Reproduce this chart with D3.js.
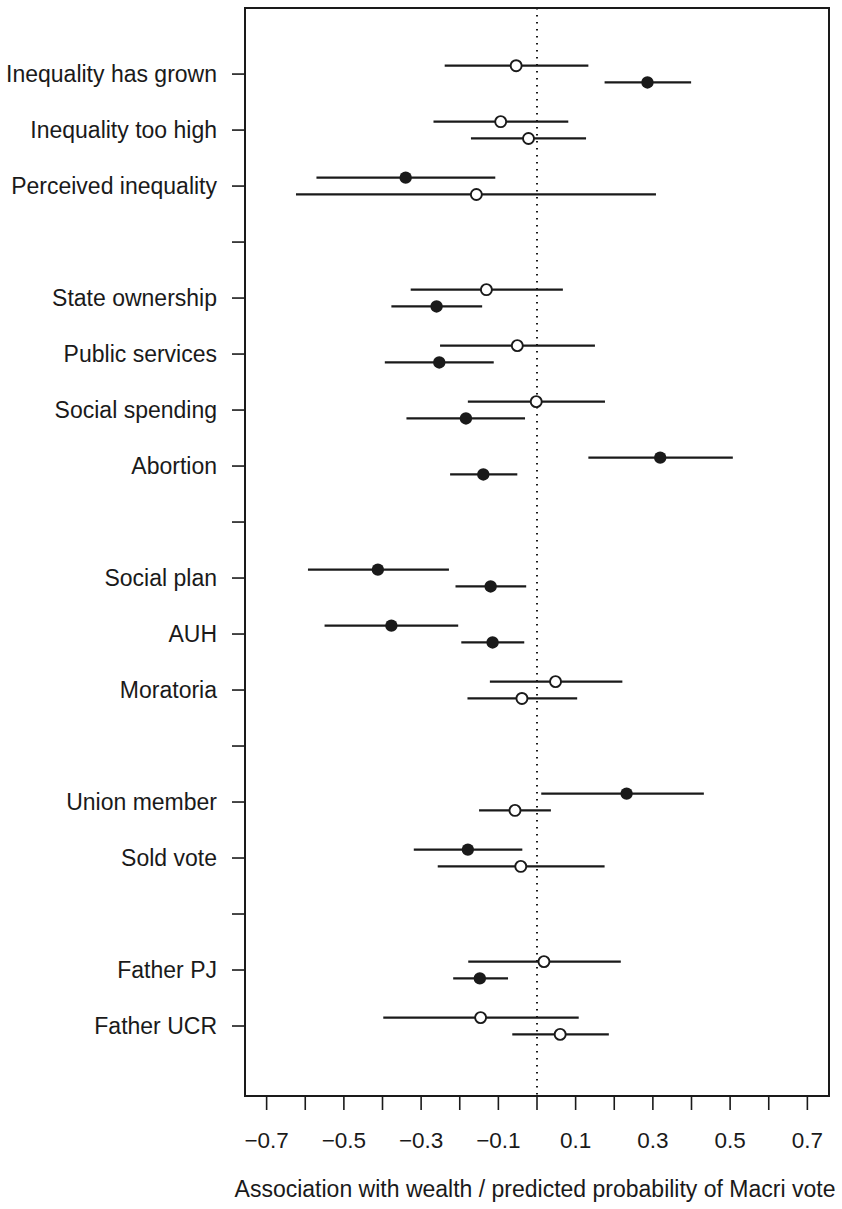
<!DOCTYPE html>
<html>
<head>
<meta charset="utf-8">
<script src="https://cdn.jsdelivr.net/npm/d3@7"></script>
<style>
  body { margin: 0; background: #fff; }
  text { font-family: "Liberation Sans", Arial, Helvetica, sans-serif; fill: #1a1a1a; }
</style>
</head>
<body>
<svg id="chart" width="842" height="1209"></svg>
<script>
// row labels, "" = spacer row between groups
const labels = [
  "Inequality has grown", "Inequality too high", "Perceived inequality", "",
  "State ownership", "Public services", "Social spending", "Abortion", "",
  "Social plan", "AUH", "Moratoria", "",
  "Union member", "Sold vote", "",
  "Father PJ", "Father UCR"
];

// upper estimate of each row (null for spacers)
const upperEst    = [-0.054, -0.094, -0.340, null, -0.131, -0.051, -0.002,  0.319, null, -0.412, -0.377,  0.048, null,  0.232, -0.179, null,  0.018, -0.146];
const upperLo     = [-0.239, -0.268, -0.571, null, -0.327, -0.251, -0.179,  0.133, null, -0.593, -0.550, -0.122, null,  0.011, -0.319, null, -0.178, -0.398];
const upperHi     = [ 0.133,  0.081, -0.108, null,  0.067,  0.150,  0.176,  0.507, null, -0.228, -0.204,  0.221, null,  0.432, -0.038, null,  0.217,  0.108];
const upperFilled = [false, false, true, null, false, false, false, true, null, true, true, false, null, true, true, null, false, false];

// lower estimate of each row
const lowerEst    = [ 0.286, -0.022, -0.157, null, -0.260, -0.253, -0.184, -0.139, null, -0.120, -0.115, -0.039, null, -0.057, -0.042, null, -0.148,  0.060];
const lowerLo     = [ 0.175, -0.171, -0.624, null, -0.377, -0.394, -0.338, -0.225, null, -0.211, -0.196, -0.180, null, -0.150, -0.257, null, -0.217, -0.064];
const lowerHi     = [ 0.399,  0.127,  0.308, null, -0.142, -0.112, -0.031, -0.051, null, -0.028, -0.033,  0.104, null,  0.036,  0.175, null, -0.075,  0.186];
const lowerFilled = [true, false, false, null, true, true, true, true, null, true, true, false, null, false, false, null, true, false];

const xTicks = d3.range(-7, 8).map(d => d / 10);
const xTickLabels = [-0.7, -0.5, -0.3, -0.1, 0.1, 0.3, 0.5, 0.7];

const svg = d3.select("#chart");
const ink = "#1a1a1a";

const plotLeft = 245, plotRight = 829, plotTop = 8, plotBottom = 1096;

const x = d3.scaleLinear().domain([-0.756, 0.756]).range([plotLeft, plotRight]);
const y = d3.scaleLinear().domain([-1.18, 18.25]).range([plotTop, plotBottom]);
const offset = 0.15; // row units between the two estimates

// build point rows
const points = [];
labels.forEach((lab, i) => {
  if (upperEst[i] === null) return;
  points.push({ row: i - offset, est: upperEst[i], lo: upperLo[i], hi: upperHi[i], filled: upperFilled[i] });
  points.push({ row: i + offset, est: lowerEst[i], lo: lowerLo[i], hi: lowerHi[i], filled: lowerFilled[i] });
});

// zero reference line
svg.append("line")
  .attr("x1", x(0)).attr("x2", x(0))
  .attr("y1", plotTop).attr("y2", plotBottom)
  .attr("stroke", ink)
  .attr("stroke-width", 2)
  .attr("stroke-dasharray", "1.5,5.5");

// intervals
svg.append("g")
  .selectAll("line")
  .data(points)
  .join("line")
  .attr("x1", d => x(d.lo))
  .attr("x2", d => x(d.hi))
  .attr("y1", d => y(d.row))
  .attr("y2", d => y(d.row))
  .attr("stroke", ink)
  .attr("stroke-width", 2.2);

// estimates
svg.append("g")
  .selectAll("circle")
  .data(points)
  .join("circle")
  .attr("cx", d => x(d.est))
  .attr("cy", d => y(d.row))
  .attr("r", d => d.filled ? 6.2 : 5.5)
  .attr("fill", d => d.filled ? ink : "#fff")
  .attr("stroke", ink)
  .attr("stroke-width", d => d.filled ? 0 : 1.9);

// frame
svg.append("rect")
  .attr("x", plotLeft).attr("y", plotTop)
  .attr("width", plotRight - plotLeft).attr("height", plotBottom - plotTop)
  .attr("fill", "none")
  .attr("stroke", ink)
  .attr("stroke-width", 2);

// y axis
const yAxis = svg.append("g").attr("transform", `translate(${plotLeft},0)`);
yAxis.selectAll("line")
  .data(labels)
  .join("line")
  .attr("x1", -13).attr("x2", 0)
  .attr("y1", (d, i) => y(i)).attr("y2", (d, i) => y(i))
  .attr("stroke", ink)
  .attr("stroke-width", 1.6);
yAxis.selectAll("text")
  .data(labels)
  .join("text")
  .attr("x", -28)
  .attr("y", (d, i) => y(i))
  .attr("dy", "0.35em")
  .attr("text-anchor", "end")
  .attr("font-size", 23)
  .text(d => d);

// x axis
const xAxis = svg.append("g").attr("transform", `translate(0,${plotBottom})`);
xAxis.selectAll("line")
  .data(xTicks)
  .join("line")
  .attr("x1", d => x(d)).attr("x2", d => x(d))
  .attr("y1", 0).attr("y2", 14)
  .attr("stroke", ink)
  .attr("stroke-width", 1.6);
xAxis.selectAll("text")
  .data(xTickLabels)
  .join("text")
  .attr("x", d => x(d))
  .attr("y", 52)
  .attr("text-anchor", "middle")
  .attr("font-size", 22.5)
  .text(d => d3.format(".1f")(d).replace("-", "\u2212"));

svg.append("text")
  .attr("x", 535)
  .attr("y", 1197)
  .attr("text-anchor", "middle")
  .attr("font-size", 23)
  .text("Association with wealth / predicted probability of Macri vote");
</script>
</body>
</html>
